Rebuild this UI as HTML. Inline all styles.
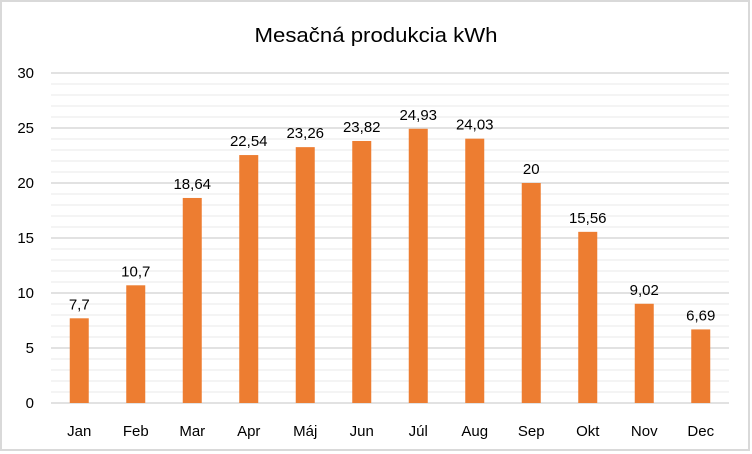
<!DOCTYPE html>
<html><head><meta charset="utf-8"><style>body{margin:0;background:#fff}svg{display:block}text{font-family:"Liberation Sans",sans-serif;fill:#000}</style></head><body>
<svg width="752" height="454" xmlns="http://www.w3.org/2000/svg">
<rect x="0" y="0" width="752" height="454" fill="#fff"/>
<rect x="1" y="1" width="748" height="449" fill="none" stroke="#d9d9d9" stroke-width="2"/>
<text x="376" y="42" font-size="20" text-anchor="middle" textLength="243" lengthAdjust="spacingAndGlyphs">Mesačná produkcia kWh</text>
<g id="grid"></g>
<g id="bars"></g>
</svg>
<script>
var ns="http://www.w3.org/2000/svg",L=51,R=729,Y0=403,S=11;
var g=document.getElementById("grid"),b=document.getElementById("bars");
function el(p,t,a,txt){var e=document.createElementNS(ns,t);for(var k in a)e.setAttribute(k,a[k]);if(txt!=null)e.textContent=txt;p.appendChild(e);return e;}
for(var v=1;v<=30;v++){if(v%5)el(g,"line",{x1:L,x2:R,y1:Y0-v*S,y2:Y0-v*S,stroke:"#f0f0f0","stroke-width":1.5});}
for(var v=0;v<=30;v+=5){el(g,"line",{x1:L,x2:R,y1:Y0-v*S,y2:Y0-v*S,stroke:"#d9d9d9","stroke-width":1.5});el(g,"text",{x:34,y:Y0-v*S+5,"font-size":15,"text-anchor":"end"},v);}
var m=["Jan","Feb","Mar","Apr","Máj","Jun","Júl","Aug","Sep","Okt","Nov","Dec"];
var d=[7.7,10.7,18.64,22.54,23.26,23.82,24.93,24.03,20,15.56,9.02,6.69];
var w=(R-L)/12;
for(var i=0;i<12;i++){var c=L+w*(i+0.5),h=d[i]*S;
el(b,"rect",{x:c-9.5,y:Y0-h,width:19,height:h,fill:"#ed7d31"});
el(b,"text",{x:c,y:Y0-h-9,"font-size":15,"text-anchor":"middle"},String(d[i]).replace(".",","));
el(b,"text",{x:c,y:436,"font-size":15,"text-anchor":"middle"},m[i]);}
</script>
</body></html>
